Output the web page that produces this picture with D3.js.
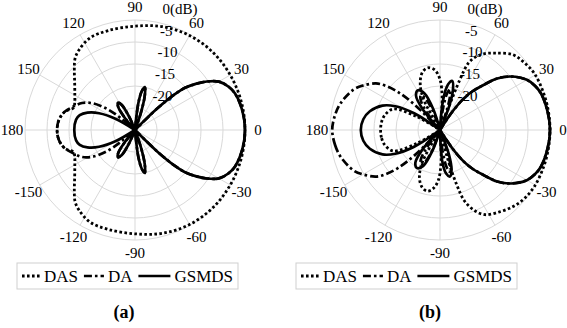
<!DOCTYPE html>
<html>
<head>
<meta charset="utf-8">
<title>Polar patterns</title>
<script src="https://d3js.org/d3.v7.min.js"></script>
<style>
  body { margin: 0; background: #fff; }
</style>
</head>
<body>
<svg id="chart" width="567" height="328"></svg>
<script>
// ticks
var angleTicks = [0, 30, 60, 90, 120, 150, 180, -150, -120, -90, -60, -30];
var ringTicks = [0, -5, -10, -15, -20];
var ringLabels = ["0(dB)", "-5", "-10", "-15", "-20"];
var seriesNames = ["DAS", "DA", "GSMDS"];
var panelNames = ["(a)", "(b)"];

// ---- panel (a) ----
var aDasAng = [-180,-175,-170,-165,-160,-156,-150,-142,-135,-130,-125,-116,-105,-90,-75,-60,-45,-30,-15,0,15,30,45,60,75,90,105,116,125,130,135,142,150,156,160,165,170,175];
var aDasDb  = [-7.3,-7.4,-7.8,-8.6,-10.2,-10,-9.2,-7.6,-5.5,-3.8,-2.8,-1.7,-1.6,-1.4,-0.7,-0.2,0,0,0,0,0,0,0,-0.2,-0.7,-1.4,-1.6,-1.7,-2.8,-3.8,-5.5,-7.6,-9.2,-10,-10.2,-8.6,-7.8,-7.4];

var aDaAng = [-180,-175,-170,-165,-158,-153,-148,-143,-140,-137,-134,-130,-126,-122,-118,-114,-110,-86,-83,-80,-77,-74,-71,-68,-45.5,-44,-42,-40,-37,-34,-30,-25,-20,-10,0,10,20,25,30,34,37,40,42,44,45.5,68,71,74,77,80,83,86,110,114,118,122,126,130,134,137,140,143,148,153,158,165,170,175];
var aDaDb  = [-7.3,-7.4,-7.8,-8.6,-10.3,-11.5,-13.5,-17,-21,-25,-25,-21.5,-18.5,-17.7,-18.5,-21.5,-25,-25,-19,-16,-15,-17,-21,-25,-25,-18,-13,-10,-7.5,-5.3,-3,-1.6,-0.8,-0.2,0,-0.2,-0.8,-1.6,-3,-5.3,-7.5,-10,-13,-18,-25,-25,-21,-17,-15,-16,-19,-25,-25,-21.5,-18.5,-17.7,-18.5,-21.5,-25,-25,-21,-17,-13.5,-11.5,-10.3,-8.6,-7.8,-7.4];

var aGsAng = [-180,-170,-165,-160,-155,-150,-145,-134,-130,-126,-122,-118,-114,-110,-86,-83,-80,-77,-74,-71,-68,-45.5,-44,-42,-40,-37,-34,-30,-25,-20,-10,0,10,20,25,30,34,37,40,42,44,45.5,68,71,74,77,80,83,86,110,114,118,122,126,130,134,145,150,155,160,165,170];
var aGsDb  = [-11.2,-11.4,-12,-13.5,-16,-20,-25,-25,-21.5,-18.5,-17.7,-18.5,-21.5,-25,-25,-19,-16,-15,-17,-21,-25,-25,-18,-13,-10,-7.5,-5.3,-3,-1.6,-0.8,-0.2,0,-0.2,-0.8,-1.6,-3,-5.3,-7.5,-10,-13,-18,-25,-25,-21,-17,-15,-16,-19,-25,-25,-21.5,-18.5,-17.7,-18.5,-21.5,-25,-25,-20,-16,-13.5,-12,-11.4];

// ---- panel (b) ----
var bDasAng = [-180,-172,-165,-156,-150,-146,-123,-119,-114,-108,-102,-97,-92,-88,-84,-77,-75,-73,-71,-67,-62,-54,-46,-39,-31,-20,-10,0,10,20,31,39,46,54,60,64,67,68.5,70,82,86,90,95,101,107,113,118,122,146,150,156,165,172];
var bDasDb  = [-11.5,-11.6,-12,-13.3,-19,-25,-25,-17,-13.5,-11.5,-10.8,-11.5,-13.5,-18,-25,-25,-18,-12,-8,-5.2,-3.2,-2,-0.9,-0.3,0,0,0,0,0,0,0,-0.5,-1.2,-3.4,-5,-6.5,-8.5,-13,-25,-25,-18,-13.5,-11.3,-10.6,-11.3,-13.5,-17,-25,-25,-19,-13.3,-12,-11.6];

var bDaAng = [-180,-172,-165,-155,-150,-144,-141,-138,-135,-133,-130,-127,-123,-119,-115,-111,-107,-86,-83,-80,-77,-74,-71,-68,-58,-56,-53,-50,-46,-42,-37,-30,-25,-20,-10,0,10,20,25,30,37,42,46,50,53,56,58,68,71,74,76,79,82,85,107,111,115,119,123,127,130,133,135,138,141,144,150,155,165,172];
var bDaDb  = [-0.5,-0.9,-1.6,-3.3,-4.8,-7,-9,-12,-17,-25,-25,-20,-17,-16,-17,-20,-25,-25,-20,-16.5,-15.3,-16.5,-20,-25,-25,-20,-16,-13.5,-10.8,-7.5,-4.8,-2.2,-1.2,-0.6,-0.2,0,-0.2,-0.6,-1.2,-2.2,-4.8,-7.5,-10.8,-13.5,-16,-20,-25,-25,-20,-16.5,-15.5,-16.5,-20,-25,-25,-20,-17,-16,-17,-20,-25,-25,-17,-12,-9,-7,-4.8,-3.3,-1.6,-0.9];

var bGsAng = [-180,-172,-165,-157,-152,-147,-142,-136,-132,-127,-121,-115,-110,-106,-90,-86,-82,-78,-74,-70,-66,-58,-56,-53,-50,-46,-42,-37,-30,-25,-20,-10,0,10,20,25,30,37,42,46,50,53,56,58,66,69,72,76,80,84,88,104,108,113,119,125,130,134,142,147,152,157,165,172];
var bGsDb  = [-7,-7.4,-8.5,-10.8,-13.5,-18,-25,-25,-19,-15.7,-14.9,-16,-20,-25,-25,-18,-15,-14.2,-15.5,-19,-25,-25,-20,-16,-13.5,-10.8,-7.5,-4.8,-2.2,-1.2,-0.6,-0.2,0,-0.2,-0.6,-1.2,-2.2,-4.8,-7.5,-10.8,-13.5,-16,-20,-25,-25,-19,-15.5,-13.5,-14.5,-18,-25,-25,-20,-16,-14.7,-15.5,-19,-25,-25,-18,-13.5,-10.8,-8.5,-7.4];

var panels = [
  { cx: 135, cy: 130, name: panelNames[0], legendX: 17, capX: 124,
    series: [[aDasAng, aDasDb], [aDaAng, aDaDb], [aGsAng, aGsDb]] },
  { cx: 440, cy: 130, name: panelNames[1], legendX: 296, capX: 430,
    series: [[bDasAng, bDasDb], [bDaAng, bDaDb], [bGsAng, bGsDb]] }
];

var R = 110;
var rScale = d3.scaleLinear().domain([-25, 0]).range([0, R]).clamp(true);
// degrees (ccw from east) -> d3 radial angle (cw from north)
var aScale = d3.scaleLinear().domain([-180, 180]).range([1.5 * Math.PI, -0.5 * Math.PI]);

var styles = [
  { dash: "2.6,2.4", width: 2.8 },
  { dash: "8,3,2.6,3", width: 2.7 },
  { dash: null, width: 2.7 }
];
var FONT = "'Liberation Serif', 'Times New Roman', serif";

var svg = d3.select("#chart");

var radial = d3.lineRadial()
  .angle(function(d) { return aScale(d[0]); })
  .radius(function(d) { return rScale(d[1]); })
  .curve(d3.curveCatmullRomClosed.alpha(0.5));

panels.forEach(function(p) {
  var g = svg.append("g").attr("transform", "translate(" + p.cx + "," + p.cy + ")");

  // grid
  g.selectAll(".ring").data(ringTicks).enter().append("circle")
    .attr("r", function(d) { return rScale(d); })
    .attr("fill", "none").attr("stroke", "#d9d9d9").attr("stroke-width", 1);
  g.selectAll(".spoke").data(angleTicks).enter().append("line")
    .attr("x1", 0).attr("y1", 0)
    .attr("x2", function(d) { return R * Math.sin(aScale(d)); })
    .attr("y2", function(d) { return -R * Math.cos(aScale(d)); })
    .attr("stroke", "#d9d9d9").attr("stroke-width", 1);

  // ring labels
  var la = aScale(83.5);
  g.selectAll(".rlab").data(ringTicks).enter().append("text")
    .attr("x", function(d) { return rScale(d) * Math.sin(la) + 15; })
    .attr("y", function(d) { return -rScale(d) * Math.cos(la) - 7; })
    .style("font-family", FONT).style("font-size", "15px")
    .text(function(d, i) { return ringLabels[i]; });

  // series
  p.series.forEach(function(s, i) {
    var pts = s[0].map(function(a, k) { return [a, s[1][k]]; });
    g.append("path")
      .attr("d", radial(pts))
      .attr("fill", "none")
      .attr("stroke", "#000")
      .attr("stroke-width", styles[i].width)
      .attr("stroke-dasharray", styles[i].dash)
      .attr("stroke-linejoin", "round");
  });

  // angle labels
  g.selectAll(".alab").data(angleTicks).enter().append("text")
    .attr("x", function(d) { return (R + 13) * Math.sin(aScale(d)); })
    .attr("y", function(d) { return -(R + 13) * Math.cos(aScale(d)) + 5; })
    .attr("text-anchor", "middle")
    .style("font-family", FONT).style("font-size", "15px")
    .text(function(d) { return d; });

  // legend
  var lg = svg.append("g").attr("transform", "translate(" + p.legendX + ",263)");
  var boxW = 221;
  lg.append("rect").attr("width", boxW).attr("height", 26)
    .attr("fill", "#fff").attr("stroke", "#cfcfcf").attr("stroke-width", 1);
  var sampleW = [18, 20, 32];
  var items = seriesNames.map(function(n, i) {
    var t = lg.append("text").attr("y", 18.5)
      .style("font-family", FONT).style("font-size", "17px").text(n);
    return { t: t, w: t.node().getComputedTextLength() };
  });
  var used = d3.sum(sampleW) + d3.sum(items, function(d) { return d.w; });
  var gapIn = 4;
  var gapOut = (boxW - 10 - used - 3 * gapIn) / 2;
  var x = 5;
  items.forEach(function(it, i) {
    lg.append("line").attr("x1", x).attr("x2", x + sampleW[i])
      .attr("y1", 13).attr("y2", 13)
      .attr("stroke", "#000").attr("stroke-width", styles[i].width)
      .attr("stroke-dasharray", styles[i].dash);
    x += sampleW[i] + gapIn;
    it.t.attr("x", x);
    x += it.w + gapOut;
  });

  // caption
  svg.append("text").attr("x", p.capX).attr("y", 318)
    .attr("text-anchor", "middle")
    .style("font-family", FONT).style("font-size", "18px").style("font-weight", "bold")
    .text(p.name);
});
</script>
</body>
</html>
